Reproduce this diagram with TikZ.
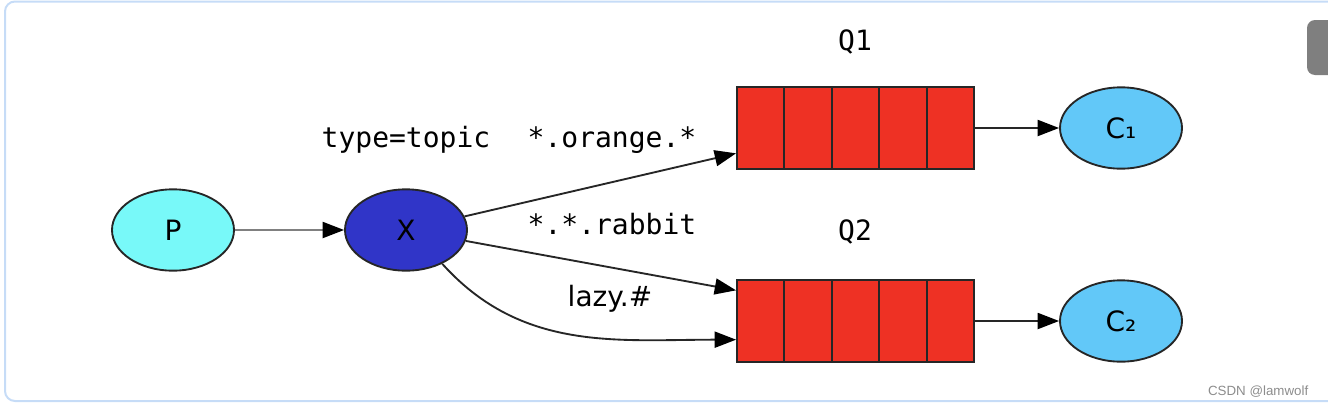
\documentclass[tikz,border=0pt]{standalone}
\usepackage{fontspec}
\setmainfont{DejaVu Sans}
\setmonofont{DejaVu Sans Mono}
\newfontfamily\marksans{Liberation Sans}
\usetikzlibrary{arrows.meta, positioning, shapes.geometric, calc}
\definecolor{mqcyan}{HTML}{78F9F9}
\definecolor{mqblue}{HTML}{3035C8}
\definecolor{mqred}{HTML}{EE3124}
\definecolor{mqsky}{HTML}{62C8F8}
\definecolor{mqframe}{HTML}{C6DCF7}
\definecolor{mqgrey}{HTML}{7F7F7F}

\begin{document}
\begin{tikzpicture}[
    x=0.75pt, y=-0.75pt,
    font=\fontsize{21}{25}\selectfont,
    ent/.style={ellipse, draw=black!85, line width=1.4pt, minimum width=91.5pt, minimum height=61pt, inner sep=0pt},
    queue/.style={draw=black!85, line width=1.4pt, fill=mqred, minimum width=177.75pt, minimum height=61.5pt, inner sep=0pt},
    arr/.style={-{Triangle[length=16pt, width=12pt, color=black]}, black!85, line width=1.4pt},
    lbl/.style={font=\ttfamily\fontsize{21}{25}\selectfont}]

  \useasboundingbox (0,0) rectangle (1328,408);
  \clip (0,0) rectangle (1328,408);
  \draw[mqframe, line width=1.5pt, rounded corners=7.5pt] (5,1.5) rectangle (1350,401);
  \fill[mqgrey, rounded corners=6pt] (1307,20) rectangle (1345,75);

  \node[ent, fill=mqcyan] (p) at (173,230) {P};
  \node[ent, fill=mqblue] (x) at (406,230) {X};
  \node[queue] (q1) at (855.5,128) {};
  \node[queue] (q2) at (855.5,321) {};
  \node[ent, fill=mqsky] (c1) at (1121,128) {C₁};
  \node[ent, fill=mqsky] (c2) at (1121,321) {C₂};

  % queue cells
  \foreach \q in {q1,q2}
    \foreach \i in {1,...,4}
      \draw[black!85, line width=1.4pt]
        ($(\q.north west)!\i/5!(\q.north east)$) -- ($(\q.south west)!\i/5!(\q.south east)$);

  \node[lbl] (t1) at (855,42) {Q1};
  \node[lbl] (t2) at (855,232) {Q2};
  \node[lbl] (ttype) at (406,140) {type=topic};
  \node[lbl] (lorange) at (612,140) {*.orange.*};
  \node[lbl] (lrabbit) at (612,224) {*.*.rabbit};
  \node (llazy) at (610,299) {lazy.\#};

  \draw[arr, black!50] (p) -- (x);
  \draw[arr] (x) -- ([yshift=-19pt]q1.west);
  \draw[arr] (x) -- ([yshift=23pt]q2.west);
  \draw[arr] (x.-43) to[out=-48, in=180] ([yshift=-14pt]q2.west);
  \draw[arr] (q1) -- (c1);
  \draw[arr] (q2) -- (c2);

  \node[font=\marksans\fontsize{10}{12}\selectfont, text=black!45, anchor=east] (mark) at (1313,392) {CSDN @lamwolf};
\end{tikzpicture}
\end{document}
